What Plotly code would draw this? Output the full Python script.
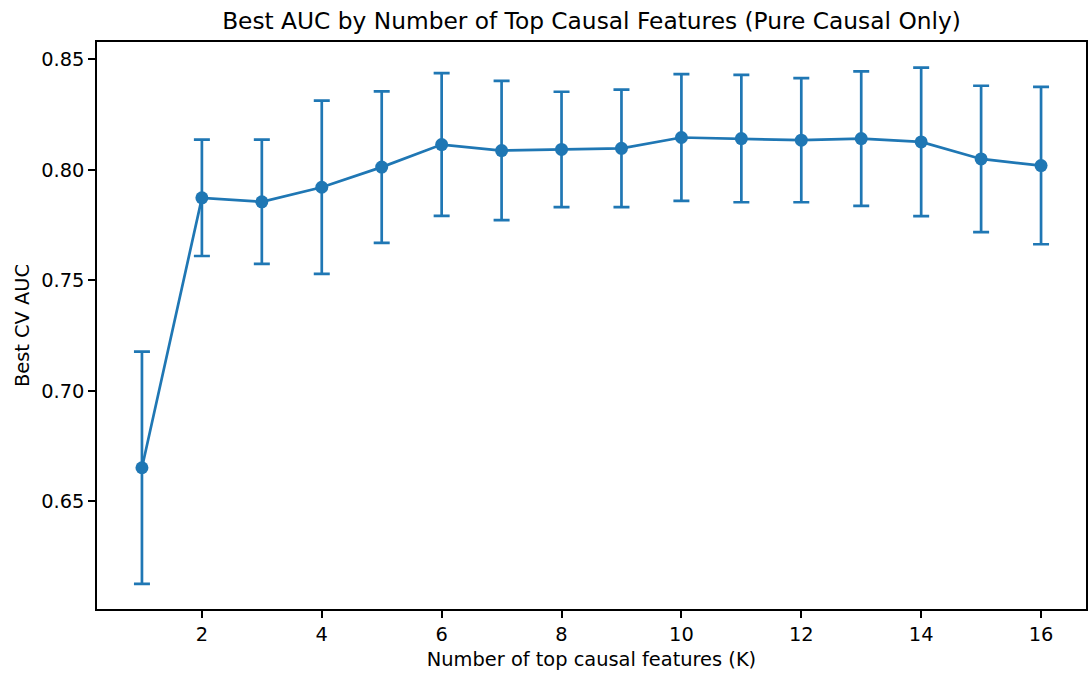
import plotly.graph_objects as go

k_values = list(range(1, 17))
best_auc = [0.6652, 0.7873, 0.7855, 0.7921, 0.8012, 0.8114, 0.8087, 0.8092,
            0.8097, 0.8146, 0.8141, 0.8134, 0.8141, 0.8126, 0.8049, 0.8019]
auc_std = [0.0525, 0.0263, 0.0281, 0.0392, 0.0343, 0.0323, 0.0315, 0.0261,
           0.0266, 0.0287, 0.0288, 0.0281, 0.0304, 0.0336, 0.0331, 0.0356]
x_ticks = [2, 4, 6, 8, 10, 12, 14, 16]
y_ticks = [0.65, 0.70, 0.75, 0.80, 0.85]

color = "#1f77b4"
font = "DejaVu Sans"
fs = 19.4

fig = go.Figure()
fig.add_trace(go.Scatter(
    x=k_values, y=best_auc, mode="lines+markers",
    line=dict(color=color, width=2.7),
    marker=dict(color=color, size=13),
    error_y=dict(type="data", array=auc_std, visible=True, color=color,
                 thickness=2.7, width=8),
    showlegend=False,
))

fig.update_layout(
    width=1089, height=675,
    margin=dict(l=97, r=3, t=42, b=66, autoexpand=False),
    paper_bgcolor="white", plot_bgcolor="white",
    font=dict(family=font, size=fs, color="black"),
    title=dict(text="Best AUC by Number of Top Causal Features (Pure Causal Only)",
               x=0.5, xref="paper", y=1 - 21 / 675, yref="container",
               xanchor="center", yanchor="middle",
               font=dict(family=font, size=23.3, color="black")),
)
fig.update_xaxes(
    range=[0.25, 16.75], tickvals=x_ticks, ticktext=[str(v) for v in x_ticks],
    showgrid=False, zeroline=False,
    showline=True, linecolor="black", linewidth=1.5, mirror=True,
    ticks="outside", ticklen=7, tickwidth=1.5, tickcolor="black",
    automargin=False,
    title=dict(text="Number of top causal features (K)", standoff=7,
               font=dict(family=font, size=fs)),
)
fig.update_yaxes(
    range=[0.6013, 0.8578], tickvals=y_ticks, ticktext=[f"{v:.2f}" for v in y_ticks],
    showgrid=False, zeroline=False,
    showline=True, linecolor="black", linewidth=1.5, mirror=True,
    ticks="outside", ticklen=7, tickwidth=1.5, tickcolor="black",
    automargin=False,
    title=dict(text="Best CV AUC", standoff=6,
               font=dict(family=font, size=fs)),
)

fig.write_html(
    "out.html",
    config={"displayModeBar": False},
    post_script="document.body.style.margin='0';document.body.style.overflow='hidden';",
)
